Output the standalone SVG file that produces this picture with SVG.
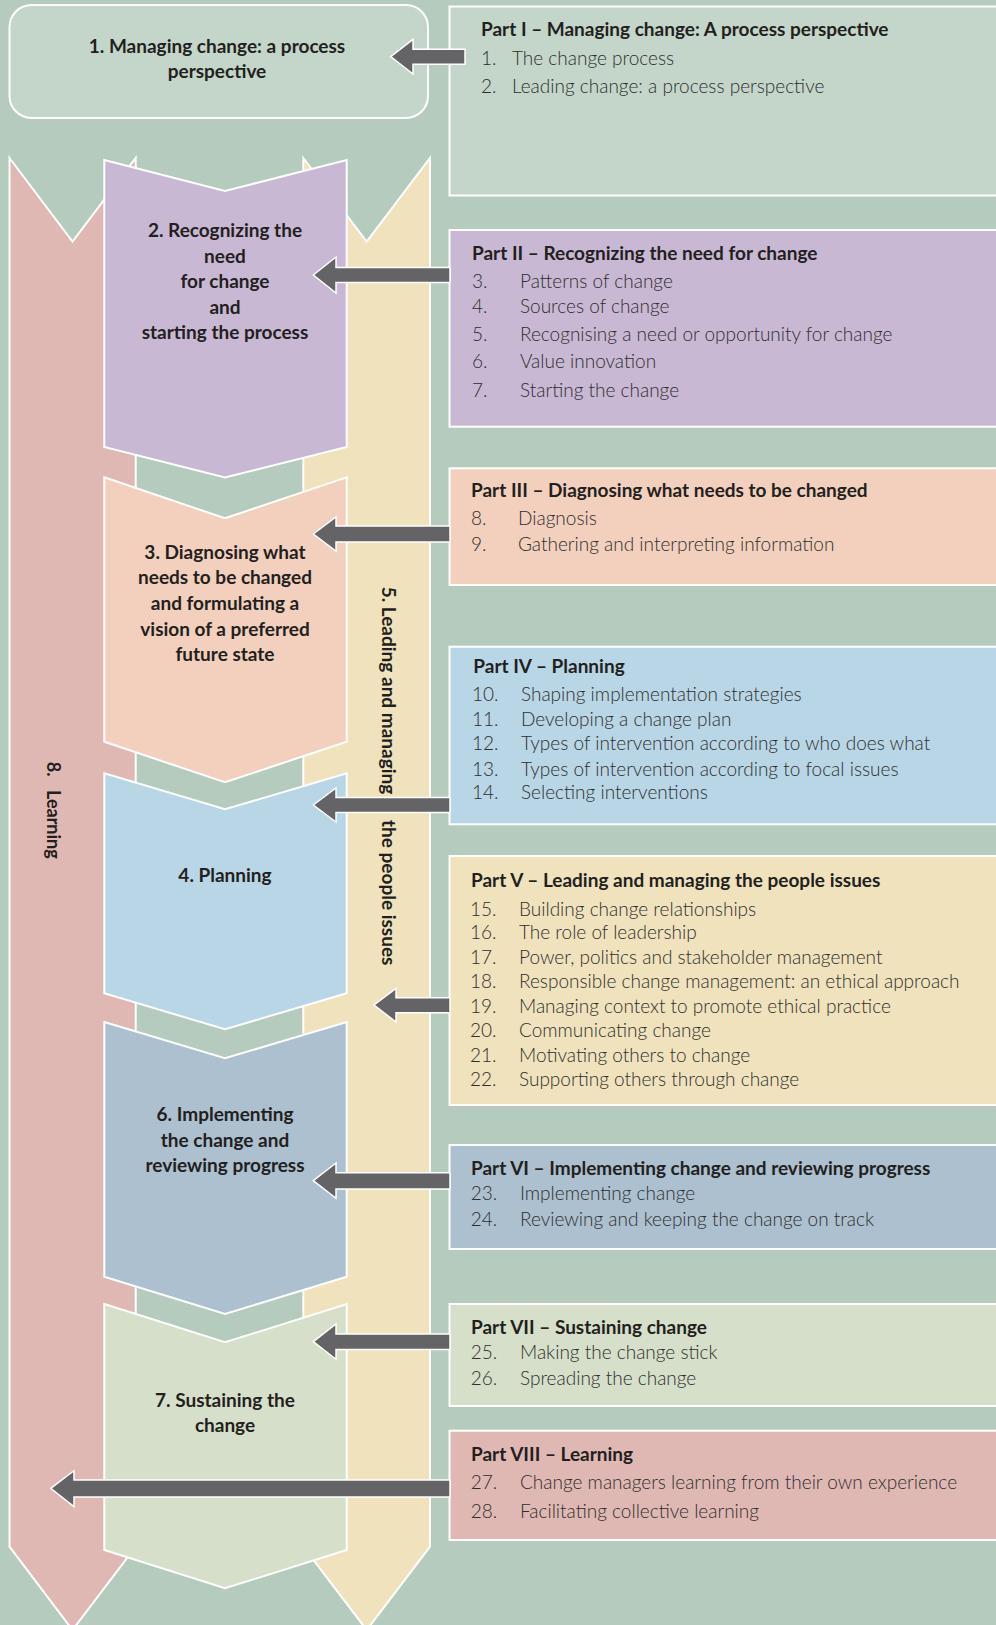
<svg xmlns="http://www.w3.org/2000/svg" width="996" height="1625" viewBox="0 0 996 1625">
<style>
.bg{fill:#b5cbbd}
.shape{stroke:#ffffff;stroke-width:2;stroke-linejoin:miter}
.arrow{fill:#646366;stroke:#ffffff;stroke-width:1.5}
.lbl{font-family:Lato,"Liberation Sans",sans-serif;font-weight:700;font-size:19px;fill:#231f20;text-anchor:middle}
.vlbl{font-family:Lato,"Liberation Sans",sans-serif;font-weight:700;font-size:18px;fill:#231f20}
.ttl{font-family:Lato,"Liberation Sans",sans-serif;font-weight:700;font-size:19px;fill:#231f20}
.itm{font-family:Lato,"Liberation Sans",sans-serif;font-weight:300;font-size:19px;fill:#2e2e2e}
</style>
<rect class="bg" x="0" y="0" width="996" height="1625"/>

<g id="col-learning">
<polygon class="shape" fill="#e0b8b3" points="9.5,158 72.5,241.7 135.7,158 135.7,1546.7 72.5,1630 9.5,1546.7"/>
<text class="vlbl" transform="translate(46.7,761.7) rotate(90)">8.<tspan x="28.3">Learning</tspan></text>
</g>
<g id="col-leading">
<polygon class="shape" fill="#f0e2bd" points="303.3,158 366.7,241.7 430,158 430,1546.7 366.7,1630 303.3,1546.7"/>
<text class="vlbl" style="font-size:19px" transform="translate(381.7,586.7) rotate(90)">5. Leading and managing <tspan x="233.3">the people issues</tspan></text>
</g>

<g id="step2">
<polygon class="shape" fill="#c9b8d4" points="104.3,160 225,191 346.7,160 346.7,447 225,477.5 104.3,447"/>
<text class="lbl"><tspan x="225" y="236.7">2. Recognizing the</tspan><tspan x="225" y="262.7">need</tspan><tspan x="225" y="288.3">for change</tspan><tspan x="225" y="314">and</tspan><tspan x="225" y="339.3">starting the process</tspan></text>
</g>
<g id="step3">
<polygon class="shape" fill="#f2d0bd" points="104.3,477.3 225,518.3 346.7,477.3 346.7,741.7 225,782.3 104.3,741.7"/>
<text class="lbl"><tspan x="225" y="559">3. Diagnosing what</tspan><tspan x="225" y="584">needs to be changed</tspan><tspan x="225" y="610">and formulating a</tspan><tspan x="225" y="635.7">vision of a preferred</tspan><tspan x="225" y="660.7">future state</tspan></text>
</g>
<g id="step4">
<polygon class="shape" fill="#b9d6e6" points="104.3,773.3 225,809.3 346.7,773.3 346.7,993.3 225,1029.3 104.3,993.3"/>
<text class="lbl" x="225" y="881.7">4. Planning</text>
</g>
<g id="step6">
<polygon class="shape" fill="#acc0cf" points="104.3,1022 225,1058.3 346.7,1022 346.7,1276.7 225,1314 104.3,1276.7"/>
<text class="lbl"><tspan x="225" y="1120.7">6. Implementing</tspan><tspan x="225" y="1146.7">the change and</tspan><tspan x="225" y="1171.7">reviewing progress</tspan></text>
</g>
<g id="step7">
<polygon class="shape" fill="#d6dfc9" points="104.3,1304 225,1342.3 346.7,1304 346.7,1550 225,1588.3 104.3,1550"/>
<text class="lbl"><tspan x="225" y="1406.7">7. Sustaining the</tspan><tspan x="225" y="1431.7">change</tspan></text>
</g>

<g id="step1">
<rect class="shape" fill="#c4d6ca" x="9.5" y="5" width="418.5" height="113" rx="22"/>
<text class="lbl"><tspan x="217" y="53">1. Managing change: a process</tspan><tspan x="217" y="78">perspective</tspan></text>
</g>

<g id="part1">
<rect class="shape" fill="#c4d6ca" x="449.5" y="6.5" width="560" height="189"/>
<text class="ttl" x="481" y="36">Part I – Managing change: A process perspective</text>
<text class="itm"><tspan x="481" y="65">1.</tspan><tspan x="512" y="65">The change process</tspan><tspan x="481" y="93">2.</tspan><tspan x="512" y="93">Leading change: a process perspective</tspan></text>
</g>
<g id="part2">
<rect class="shape" fill="#c9b8d4" x="449.5" y="230" width="560" height="196.7"/>
<text class="ttl" x="472" y="260">Part II – Recognizing the need for change</text>
<text class="itm"><tspan x="472" y="288.3">3.</tspan><tspan x="520" y="288.3">Patterns of change</tspan><tspan x="472" y="313.3">4.</tspan><tspan x="520" y="313.3">Sources of change</tspan><tspan x="472" y="340.7">5.</tspan><tspan x="520" y="340.7">Recognising a need or opportunity for change</tspan><tspan x="472" y="368.3">6.</tspan><tspan x="520" y="368.3">Value innovation</tspan><tspan x="472" y="396.7">7.</tspan><tspan x="520" y="396.7">Starting the change</tspan></text>
</g>
<g id="part3">
<rect class="shape" fill="#f2d0bd" x="449.5" y="468.3" width="560" height="116.7"/>
<text class="ttl" x="471" y="497.3">Part III – Diagnosing what needs to be changed</text>
<text class="itm"><tspan x="471" y="525">8.</tspan><tspan x="518" y="525">Diagnosis</tspan><tspan x="471" y="551">9.</tspan><tspan x="518" y="551">Gathering and interpreting information</tspan></text>
</g>
<g id="part4">
<rect class="shape" fill="#b9d6e6" x="449.5" y="646.7" width="560" height="177.6"/>
<text class="ttl" x="473.3" y="672.7">Part IV – Planning</text>
<text class="itm"><tspan x="472" y="701">10.</tspan><tspan x="521" y="701">Shaping implementation strategies</tspan><tspan x="472" y="725.7">11.</tspan><tspan x="521" y="725.7">Developing a change plan</tspan><tspan x="472" y="750">12.</tspan><tspan x="521" y="750">Types of intervention according to who does what</tspan><tspan x="472" y="775.7">13.</tspan><tspan x="521" y="775.7">Types of intervention according to focal issues</tspan><tspan x="472" y="799.3">14.</tspan><tspan x="521" y="799.3">Selecting interventions</tspan></text>
</g>
<g id="part5">
<rect class="shape" fill="#f0e2bd" x="449.5" y="856" width="560" height="249"/>
<text class="ttl" x="471" y="887.3">Part V – Leading and managing the people issues</text>
<text class="itm"><tspan x="470" y="915.7">15.</tspan><tspan x="519" y="915.7">Building change relationships</tspan><tspan x="470" y="939.3">16.</tspan><tspan x="519" y="939.3">The role of leadership</tspan><tspan x="470" y="964">17.</tspan><tspan x="519" y="964">Power, politics and stakeholder management</tspan><tspan x="470" y="988.3">18.</tspan><tspan x="519" y="988.3">Responsible change management: an ethical approach</tspan><tspan x="470" y="1013.3">19.</tspan><tspan x="519" y="1013.3">Managing context to promote ethical practice</tspan><tspan x="470" y="1037.3">20.</tspan><tspan x="519" y="1037.3">Communicating change</tspan><tspan x="470" y="1062.3">21.</tspan><tspan x="519" y="1062.3">Motivating others to change</tspan><tspan x="470" y="1086">22.</tspan><tspan x="519" y="1086">Supporting others through change</tspan></text>
</g>
<g id="part6">
<rect class="shape" fill="#acc0cf" x="449.5" y="1145" width="560" height="104"/>
<text class="ttl" x="471" y="1175">Part VI – Implementing change and reviewing progress</text>
<text class="itm"><tspan x="470.7" y="1200">23.</tspan><tspan x="520" y="1200">Implementing change</tspan><tspan x="470.7" y="1225.7">24.</tspan><tspan x="520" y="1225.7">Reviewing and keeping the change on track</tspan></text>
</g>
<g id="part7">
<rect class="shape" fill="#d6dfc9" x="449.5" y="1304" width="560" height="102"/>
<text class="ttl" x="471" y="1334">Part VII – Sustaining change</text>
<text class="itm"><tspan x="470.7" y="1359.3">25.</tspan><tspan x="520" y="1359.3">Making the change stick</tspan><tspan x="470.7" y="1385">26.</tspan><tspan x="520" y="1385">Spreading the change</tspan></text>
</g>
<g id="part8">
<rect class="shape" fill="#e0b8b3" x="449.5" y="1430.7" width="560" height="109.3"/>
<text class="ttl" x="471" y="1460.7">Part VIII – Learning</text>
<text class="itm"><tspan x="470.7" y="1489.3">27.</tspan><tspan x="520" y="1489.3">Change managers learning from their own experience</tspan><tspan x="470.7" y="1517.7">28.</tspan><tspan x="520" y="1517.7">Facilitating collective learning</tspan></text>
</g>

<g id="connectors">
<path class="arrow" d="M390.7,56.7 L413,39.3 L413,49.2 L465,49.2 L465,64.2 L413,64.2 L413,74 Z"/>
<path class="arrow" d="M313.3,275 L336,257 L336,267.5 L450,267.5 L450,282.5 L336,282.5 L336,293 Z"/>
<path class="arrow" d="M313.3,534 L336,516.8 L336,526 L450,526 L450,542 L336,542 L336,551.2 Z"/>
<path class="arrow" d="M313.3,805 L336,788 L336,797.5 L450,797.5 L450,812.5 L336,812.5 L336,822 Z"/>
<path class="arrow" d="M374,1005 L396,988.3 L396,997.7 L450,997.7 L450,1012.7 L396,1012.7 L396,1022 Z"/>
<path class="arrow" d="M313.3,1180.7 L336,1163 L336,1172.7 L450,1172.7 L450,1189 L336,1189 L336,1198.3 Z"/>
<path class="arrow" d="M313.3,1341.7 L336,1324 L336,1334 L450,1334 L450,1349.5 L336,1349.5 L336,1359.3 Z"/>
<path class="arrow" d="M50.7,1488.3 L74,1470.7 L74,1480 L450,1480 L450,1497 L74,1497 L74,1506.7 Z"/>
</g>
</svg>
